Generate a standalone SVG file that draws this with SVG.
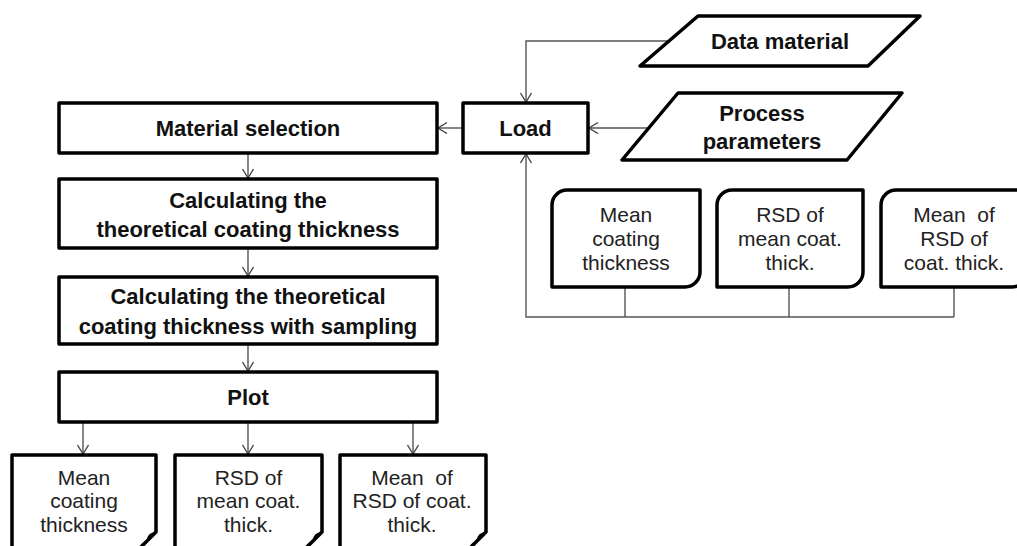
<svg xmlns="http://www.w3.org/2000/svg" width="1017" height="546" viewBox="0 0 1017 546">
<style>
.box{fill:#fff;stroke:#000;stroke-width:3.5;stroke-linejoin:round}
.t{font-family:"Liberation Sans",Arial,sans-serif;font-size:22px;font-weight:bold;fill:#111;text-anchor:middle}
.s{font-family:"Liberation Sans",Arial,sans-serif;font-size:21px;fill:#222;text-anchor:middle;white-space:pre}
.c{fill:none;stroke:#555;stroke-width:1.4}
</style>
<defs>
<marker id="ah" markerUnits="userSpaceOnUse" markerWidth="16" markerHeight="16" refX="10" refY="6" orient="auto">
<path d="M1,0.5 L10,6 L1,11.5" fill="none" stroke="#444" stroke-width="1.4"/>
</marker>
</defs>
<g id="connectors">
<path class="c" d="M669,41 H526 V102" marker-end="url(#ah)"/>
<path class="c" d="M650,128 H589" marker-end="url(#ah)"/>
<path class="c" d="M463,128 H438" marker-end="url(#ah)"/>
<path class="c" d="M248,153 V178" marker-end="url(#ah)"/>
<path class="c" d="M248,248 V276" marker-end="url(#ah)"/>
<path class="c" d="M248,344 V371" marker-end="url(#ah)"/>
<path class="c" d="M83,422 V454" marker-end="url(#ah)"/>
<path class="c" d="M248,422 V454" marker-end="url(#ah)"/>
<path class="c" d="M413,422 V454" marker-end="url(#ah)"/>
<path class="c" d="M625,287 V317 M789,287 V317 M954,287 V317 M954,317 H526 V154" marker-end="url(#ah)"/>
</g>
<g id="data-material">
<polygon class="box" points="698,16 920,16 868,66 640,66"/>
<text class="t" x="780" y="49">Data material</text>
</g>
<g id="process-parameters">
<polygon class="box" points="678,93 902,93 847,160 622,160"/>
<text class="t" x="762" y="121">Process</text>
<text class="t" x="762" y="149">parameters</text>
</g>
<g id="load">
<rect class="box" x="463" y="103" width="125" height="50"/>
<text class="t" x="525.5" y="136">Load</text>
</g>
<g id="material-selection">
<rect class="box" x="59" y="103" width="378" height="50"/>
<text class="t" x="248" y="136">Material selection</text>
</g>
<g id="calc-theoretical">
<rect class="box" x="59" y="179" width="378" height="69"/>
<text class="t" x="248" y="208">Calculating the</text>
<text class="t" x="248" y="237">theoretical coating thickness</text>
</g>
<g id="calc-sampling">
<rect class="box" x="59" y="277" width="378" height="67"/>
<text class="t" x="248" y="304">Calculating the theoretical</text>
<text class="t" x="248" y="334">coating thickness with sampling</text>
</g>
<g id="plot">
<rect class="box" x="59" y="372" width="378" height="50"/>
<text class="t" x="248" y="405">Plot</text>
</g>
<g id="in-mean">
<path class="box" d="M567,190 H700 V272 A15,15 0 0 1 685,287 H552 V205 A15,15 0 0 1 567,190 Z"/>
<text class="s" x="626" y="222">Mean</text>
<text class="s" x="626" y="246">coating</text>
<text class="s" x="626" y="270">thickness</text>
</g>
<g id="in-rsd">
<path class="box" d="M732,190 H863 V272 A15,15 0 0 1 848,287 H717 V205 A15,15 0 0 1 732,190 Z"/>
<text class="s" x="790" y="222">RSD of</text>
<text class="s" x="790" y="246">mean coat.</text>
<text class="s" x="790" y="270">thick.</text>
</g>
<g id="in-mean-rsd">
<path class="box" d="M896,190 H1027 V272 A15,15 0 0 1 1012,287 H881 V205 A15,15 0 0 1 896,190 Z"/>
<text class="s" x="954" y="222" xml:space="preserve">Mean  of</text>
<text class="s" x="954" y="246">RSD of</text>
<text class="s" x="954" y="270">coat. thick.</text>
</g>
<g id="out-mean">
<path class="box" d="M12,560 V455 H156 V532 L140,548"/>
<path d="M156,532 Q146,533 147,542 Q142,541 139,548 L143,546 Q148,538 156,532 Z" fill="#000"/>
<text class="s" x="84" y="485">Mean</text>
<text class="s" x="84" y="508">coating</text>
<text class="s" x="84" y="532">thickness</text>
</g>
<g id="out-rsd">
<path class="box" d="M175,560 V455 H322 V532 L306,548"/>
<path d="M322,532 Q312,533 313,542 Q308,541 305,548 L309,546 Q314,538 322,532 Z" fill="#000"/>
<text class="s" x="248.5" y="485">RSD of</text>
<text class="s" x="248.5" y="508">mean coat.</text>
<text class="s" x="248.5" y="532">thick.</text>
</g>
<g id="out-mean-rsd">
<path class="box" d="M340,560 V455 H486 V532 L470,548"/>
<path d="M486,532 Q476,533 477,542 Q472,541 469,548 L473,546 Q478,538 486,532 Z" fill="#000"/>
<text class="s" x="412" y="485" xml:space="preserve">Mean  of</text>
<text class="s" x="412" y="508">RSD of coat.</text>
<text class="s" x="412" y="532">thick.</text>
</g>
</svg>
